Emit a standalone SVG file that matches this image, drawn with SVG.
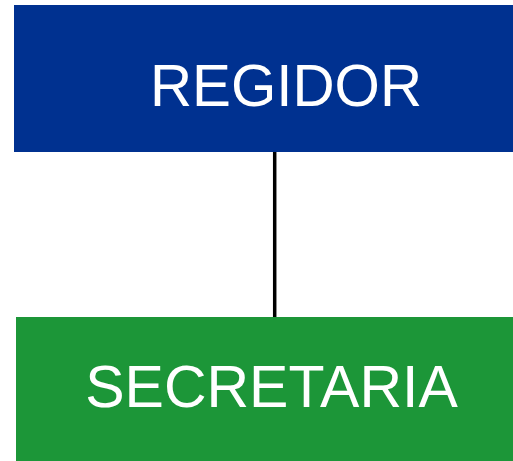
<svg xmlns="http://www.w3.org/2000/svg" width="513" height="461" viewBox="0 0 513 461">
<style>
.lbl{font-family:"Liberation Sans",Arial,sans-serif;font-size:59px;fill:#fff;text-anchor:middle}
</style>
<rect width="513" height="461" fill="#fff"/>
<g id="connectors">
<line x1="274.7" y1="152" x2="274.7" y2="317" stroke="#000" stroke-width="3.5"/>
</g>
<g id="regidor">
<rect x="14" y="5" width="499" height="147" fill="#003190"/>
<text class="lbl" x="286" y="106" style="font-size:58.3px">REGIDOR</text>
</g>
<g id="secretaria">
<rect x="16" y="317" width="497" height="144" fill="#1c9638"/>
<text class="lbl" x="271.5" y="407">SECRETARIA</text>
</g>
</svg>
